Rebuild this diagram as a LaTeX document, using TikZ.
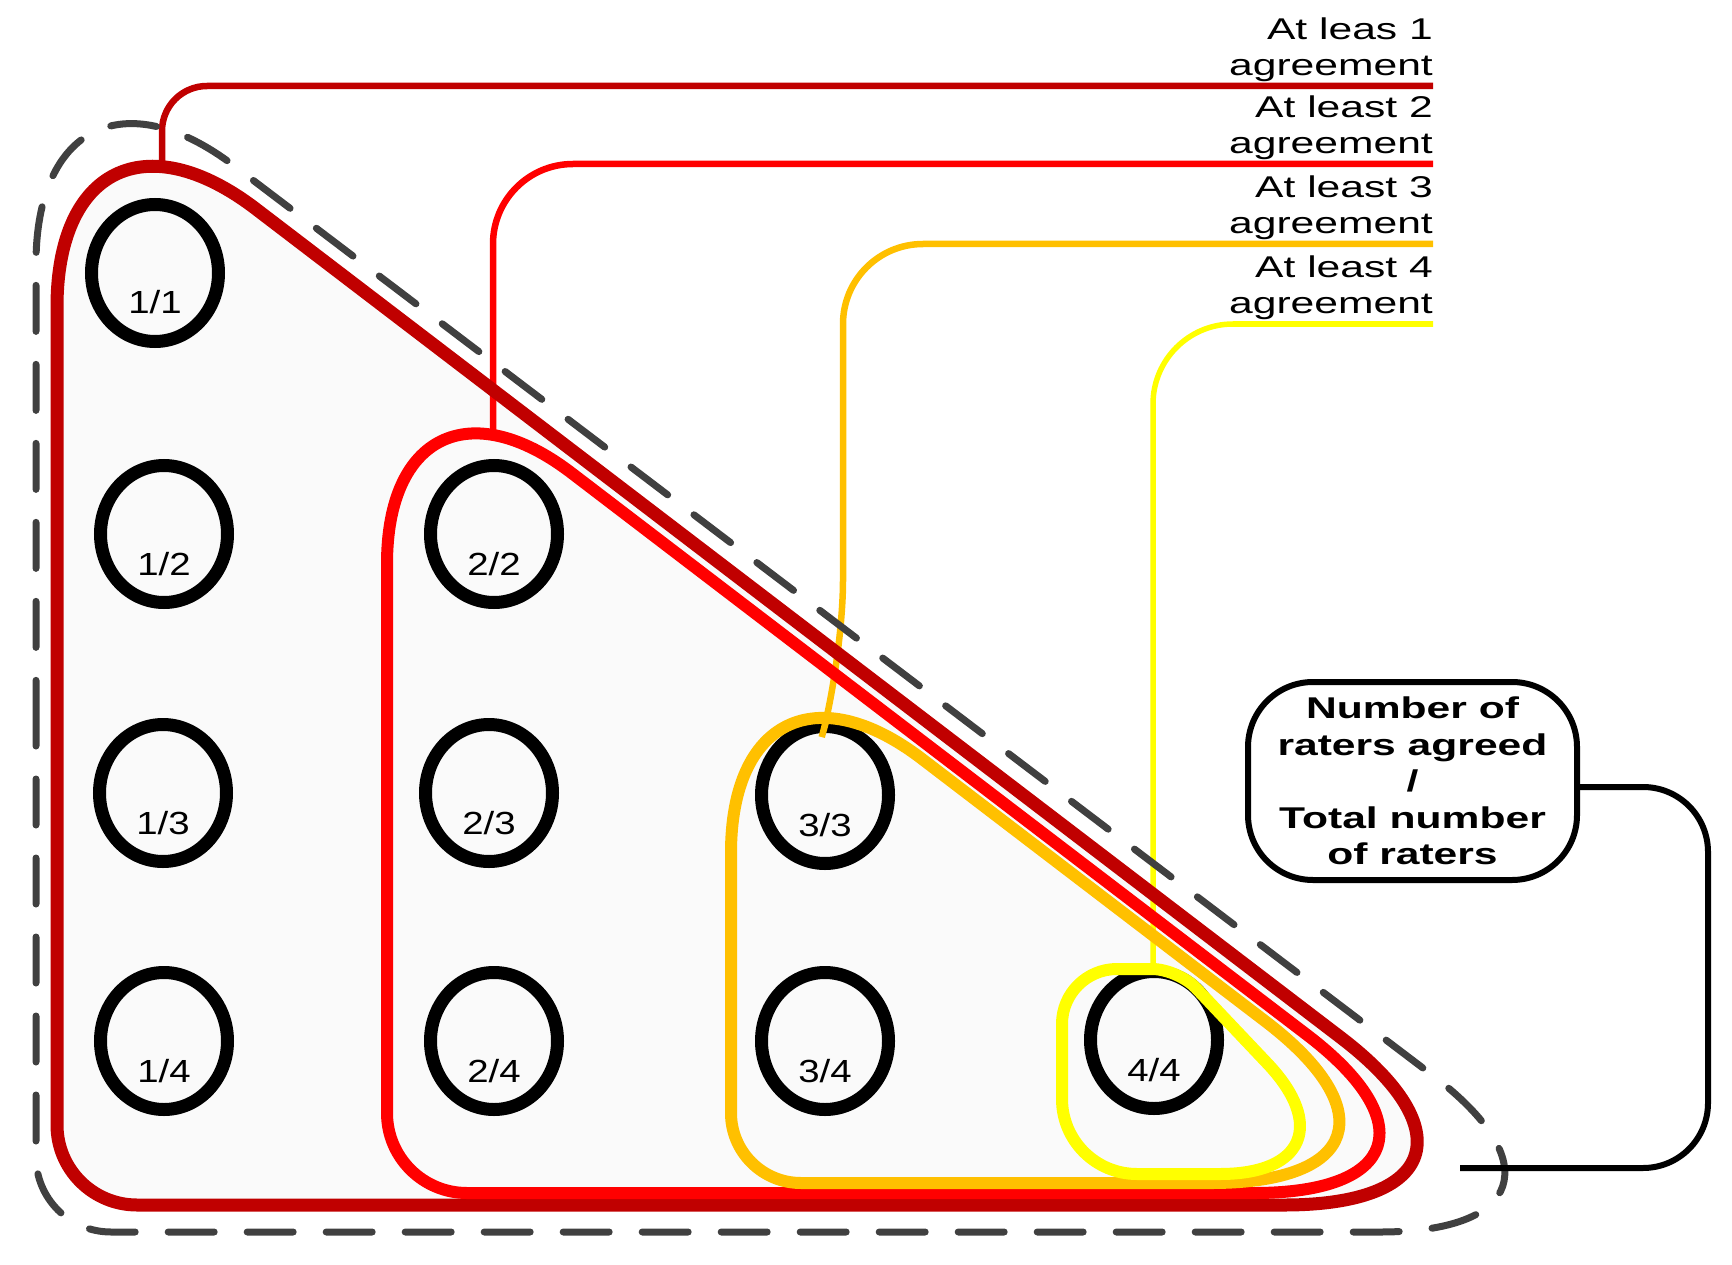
\documentclass[tikz,border=0pt]{standalone}
\usepackage{fontspec}
\setmainfont{Liberation Sans}[FakeStretch=1.42]
\newfontfamily\numfont{Liberation Sans}[FakeStretch=1.2]
\usetikzlibrary{shapes.geometric}

\definecolor{lvlone}{HTML}{C00000}
\definecolor{lvltwo}{HTML}{FF0000}
\definecolor{lvlthree}{HTML}{FFC000}
\definecolor{lvlfour}{HTML}{FFFF00}
\definecolor{outlinegray}{HTML}{404040}

\begin{document}
\begin{tikzpicture}[
    x=1pt, y=-1pt,
    rater/.style={draw, ellipse, line width=13pt, minimum width=127pt,
                  minimum height=137pt, inner sep=0pt},
    num/.style={font=\numfont\fontsize{32}{38}\selectfont, anchor=base, inner sep=0pt},
    tag/.style={font=\fontsize{30}{36.5}\selectfont, align=right,
                anchor=south east, inner sep=0pt},
    band/.style={line width=12pt, line join=round},
    wire/.style={line width=6.5pt},
    outline/.style={draw=outlinegray, line width=7pt, line cap=round,
                    dash pattern=on 46pt off 33pt},
    ratiobox/.style={draw, line width=6pt, rounded corners=65pt, minimum width=329pt,
                     minimum height=198pt, align=center,
                     font=\bfseries\fontsize{30}{36.5}\selectfont}
]
\useasboundingbox (0,0) rectangle (1732,1265);

% --- light fill of the whole triangle ---
\fill[black!2] (57,700) [rounded corners=80pt] -- (57,1205) [rounded corners=276pt]
    -- (1560,1205) [rounded corners=250pt] -- (57,57) [sharp corners] -- cycle;

% --- raters ---
\node[rater] (r11) at (155,273) {};
\node[rater] (r12) at (164,534) {};
\node[rater] (r13) at (163,793) {};
\node[rater] (r14) at (164,1041) {};
\node[rater] (r22) at (494,534) {};
\node[rater] (r23) at (489,793) {};
\node[rater] (r24) at (494,1041) {};
\node[rater] (r33) at (825,795) {};
\node[rater] (r34) at (825,1041) {};
\node[rater] (r44) at (1154,1040) {};

\node[num] (n11) at ([yshift=-41pt]r11.center) {1/1};
\node[num] (n12) at ([yshift=-41pt]r12.center) {1/2};
\node[num] (n13) at ([yshift=-41pt]r13.center) {1/3};
\node[num] (n14) at ([yshift=-41pt]r14.center) {1/4};
\node[num] (n22) at ([yshift=-41pt]r22.center) {2/2};
\node[num] (n23) at ([yshift=-41pt]r23.center) {2/3};
\node[num] (n24) at ([yshift=-41pt]r24.center) {2/4};
\node[num] (n33) at ([yshift=-41pt]r33.center) {3/3};
\node[num] (n34) at ([yshift=-41pt]r34.center) {3/4};
\node[num] (n44) at ([yshift=-41pt]r44.center) {4/4};

% --- agreement labels ---
\node[tag] (l1) at (1433,82) {At leas 1\\agreement};
\node[tag] (l2) at (1433,160) {At least 2\\agreement};
\node[tag] (l3) at (1433,240) {At least 3\\agreement};
\node[tag] (l4) at (1433,320) {At least 4\\agreement};

\coordinate (top1) at (162,167);
\coordinate (top2) at (493,437);
\coordinate (top3) at (827,718);
\coordinate (top4) at (1153,969);

\draw[wire, draw=lvlone, rounded corners=45pt] ([yshift=-4pt]l1.south east) -| (top1);
\draw[wire, draw=lvltwo, rounded corners=80pt] ([yshift=-4pt]l2.south east) -| (top2);
\draw[wire, draw=lvlthree, rounded corners=80pt] ([yshift=-4pt]l3.south east)
    -| (843,660) -- (top3);
\draw[wire, draw=lvlfour, line width=5.5pt, rounded corners=80pt]
    ([yshift=-4pt]l4.south east) -| (top4);

% --- agreement bands ---
\draw[band, draw=lvlone, line width=13pt] (57,700) [rounded corners=80pt] -- (57,1205)
    [rounded corners=276pt] -- (1560,1205) [rounded corners=250pt] -- (57,57)
    [sharp corners] -- cycle;
\draw[band, draw=lvltwo] (387,800) [rounded corners=80pt] -- (387,1193)
    [rounded corners=260pt] -- (1514,1193) [rounded corners=232pt] -- (387,332)
    [sharp corners] -- cycle;
\draw[band, draw=lvlthree] (731,1000) [rounded corners=70pt] -- (731,1183)
    [rounded corners=266pt] -- (1477,1183) [rounded corners=240pt] -- (731,613)
    [sharp corners] -- cycle;
\draw[band, draw=lvlfour] (1200,1174) [rounded corners=152pt] -- (1372,1174)
    [rounded corners=26pt] -- (1178,969) [rounded corners=55pt] -- (1062,969)
    [rounded corners=75pt] -- (1062,1174) [sharp corners] -- cycle;

% --- dashed outline ---
\draw[outline] (36,700) [rounded corners=75pt] -- (36,1232) [rounded corners=259pt]
    -- (1639,1232) [rounded corners=248pt] -- (36,15.5) [sharp corners] -- cycle;

% --- ratio box ---
\node[ratiobox] (ratio) at (1412.5,781)
    {Number of\\raters agreed\\/\\Total number\\of raters};
\coordinate (ratioend) at (1460,1168);
\draw[wire, line width=6pt, rounded corners=65pt] ([yshift=-6pt]ratio.east)
    -- ++(128,0) |- (ratioend);

\end{tikzpicture}
\end{document}
